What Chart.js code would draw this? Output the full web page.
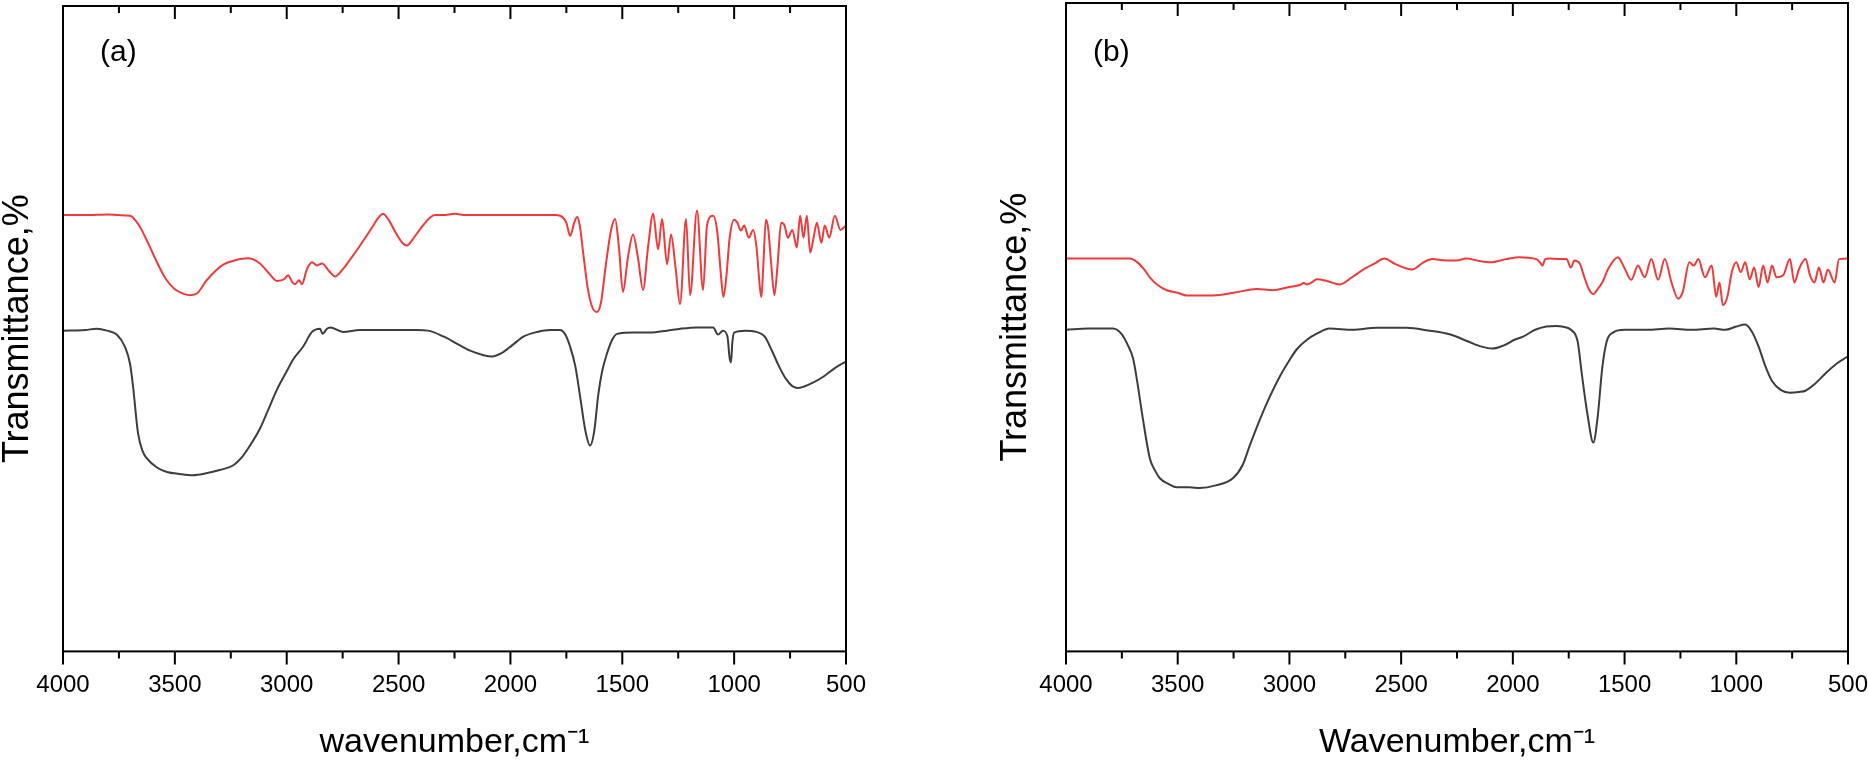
<!DOCTYPE html>
<html>
<head>
<meta charset="utf-8">
<script src="https://cdn.jsdelivr.net/npm/chart.js@4.4.1/dist/chart.umd.min.js"></script>
<style>
html, body { margin: 0; padding: 0; background: #fff; overflow: hidden; }
#wrap { position: relative; width: 1868px; height: 763px; overflow: hidden; }
#chartA { position: absolute; left: 0; top: 0; }
#chartB { position: absolute; left: 934px; top: 0; }
</style>
</head>
<body>
<div id="wrap">
  <canvas id="chartA" width="934" height="763"></canvas>
  <canvas id="chartB" width="960" height="763"></canvas>
</div>
<script>
// panel (a) - red spectrum
var aRedWn = [4000,3900,3800,3750,3700,3660,3620,3580,3540,3500,3460,3432,3400,3360,3320,3280,3230,3173,3120,3080,3043,3010,2994,2975,2963,2945,2932,2910,2887,2865,2842,2810,2784,2750,2717,2672,2620,2590,2570,2545,2510,2480,2462,2440,2400,2360,2337,2300,2250,2200,2100,2000,1900,1800,1778,1750,1733,1715,1702,1690,1675,1655,1635,1613,1595,1575,1550,1532,1515,1497,1475,1452,1430,1407,1385,1362,1340,1322,1300,1282,1262,1242,1215,1197,1166,1139,1121,1094,1075,1060,1048,1035,1020,1000,985,970,955,935,915,900,885,878,870,858,848,835,820,805,790,775,760,740,720,705,690,675,660,645,630,610,595,575,550,525,500];
var aRedT = [67.6,67.6,67.7,67.6,67.5,66.0,63.3,60.3,57.7,56.1,55.4,55.2,55.5,57.4,58.9,60.0,60.6,60.9,60.1,58.6,57.4,57.7,58.3,57.2,56.9,57.5,56.9,59.2,60.3,59.8,60.1,58.9,58.1,59.2,60.7,62.9,65.6,67.2,67.8,66.9,64.7,63.2,62.9,63.7,65.6,67.2,67.6,67.6,67.8,67.6,67.6,67.6,67.6,67.6,67.5,66.4,64.4,66.4,67.3,66.0,61.8,56.4,53.4,52.6,54.1,59.5,65.3,67.0,62.6,55.7,61.0,64.6,61.0,56.0,62.6,67.8,62.3,67.0,60.0,64.6,59.5,53.8,67.0,55.2,68.3,56.0,66.1,67.5,64.9,58.7,54.9,58.0,64.1,66.9,66.4,65.2,66.0,64.1,65.3,62.6,56.4,54.9,59.5,66.9,65.6,60.3,55.2,60.3,66.4,66.0,64.1,65.3,62.6,67.5,64.1,67.5,61.8,64.1,66.4,63.3,66.0,64.1,67.5,65.3,66.0];

// panel (a) - black spectrum
var aBlackWn = [4000,3900,3850,3803,3760,3723,3700,3687,3665,3645,3625,3580,3535,3480,3419,3360,3300,3240,3200,3164,3120,3088,3043,3000,2972,2927,2887,2851,2840,2820,2806,2748,2672,2600,2500,2420,2368,2300,2240,2180,2120,2082,2040,1990,1940,1880,1823,1778,1755,1733,1710,1689,1665,1644,1625,1608,1590,1568,1545,1523,1450,1376,1300,1240,1166,1094,1072,1050,1030,1020,1014,1008,1000,950,900,864,830,800,770,740,715,690,650,600,550,500];
var aBlackT = [49.7,49.8,50.0,49.7,49.1,47.2,44.5,41.1,33.9,31.1,29.9,28.5,27.8,27.5,27.3,27.6,28.1,28.8,30.1,31.9,34.5,37.0,40.6,43.4,45.2,47.2,49.5,50.0,49.2,50.0,50.2,49.5,49.8,49.8,49.8,49.8,49.7,48.8,47.7,46.6,45.9,45.7,46.2,47.5,48.8,49.5,49.8,49.8,49.1,47.2,44.2,39.6,34.2,31.9,34.2,39.6,43.4,46.2,48.3,49.2,49.4,49.4,49.7,50.0,50.2,50.2,49.1,49.7,48.8,45.4,44.8,47.9,49.4,49.7,49.5,48.8,46.5,44.2,42.3,41.1,40.8,41.0,41.6,42.6,43.9,44.9];

// panel (b) - red spectrum
var bRedWn = [4000,3900,3800,3714,3680,3650,3625,3590,3549,3500,3459,3400,3342,3250,3146,3074,3000,2954,2935,2923,2900,2878,2830,2775,2720,2673,2620,2574,2530,2480,2449,2400,2360,2300,2253,2207,2150,2100,2030,1971,1895,1875,1868,1855,1837,1792,1760,1740,1725,1700,1680,1660,1640,1620,1600,1570,1530,1500,1470,1440,1410,1380,1350,1320,1290,1260,1240,1210,1190,1170,1140,1110,1090,1075,1060,1040,1020,1000,980,960,940,920,900,880,860,840,820,790,760,740,720,690,670,650,630,610,590,560,540,500];
var bRedT = [60.6,60.6,60.6,60.6,60.0,58.9,57.7,56.5,55.7,55.3,54.9,54.9,54.9,55.3,55.9,55.7,56.2,56.5,56.8,56.6,56.9,57.4,57.1,56.6,57.7,58.8,59.8,60.6,59.8,59.1,58.9,60.0,60.5,60.3,60.3,60.6,60.2,60.0,60.5,60.8,60.5,59.8,59.5,60.5,60.6,60.5,60.5,59.2,60.3,59.8,57.7,55.9,55.1,55.9,56.9,59.2,60.8,59.1,57.3,59.5,57.7,60.5,57.3,60.5,56.9,54.4,55.4,60.0,59.5,60.5,57.7,59.5,54.7,56.9,53.4,54.7,58.5,60.0,58.5,60.0,57.4,59.2,56.2,59.5,56.9,59.5,57.7,58.0,60.5,56.9,58.9,60.5,58.0,56.9,59.2,56.9,58.9,56.9,60.5,60.6];

// panel (b) - black spectrum
var bBlackWn = [4000,3900,3790,3750,3727,3700,3683,3656,3625,3600,3580,3540,3504,3446,3401,3330,3253,3210,3177,3140,3101,3043,3000,2967,2920,2878,2820,2717,2610,2476,2380,2283,2200,2140,2091,2040,1990,1957,1900,1850,1805,1780,1740,1710,1690,1665,1640,1620,1600,1580,1550,1500,1400,1300,1200,1100,1050,1000,960,930,900,870,840,800,760,720,690,650,600,550,500];
var bBlackT = [49.6,49.8,49.8,48.9,47.5,45.2,42.0,35.9,29.8,27.8,26.7,25.8,25.3,25.3,25.2,25.6,26.7,28.7,31.8,35.1,38.3,42.4,44.9,46.6,48.1,49.0,49.8,49.6,49.9,49.9,49.5,48.9,47.8,47.0,46.7,47.2,48.1,48.5,49.6,50.1,50.2,50.1,49.6,47.8,42.4,36.3,32.2,36.3,43.7,47.8,49.2,49.6,49.6,49.8,49.6,49.8,49.6,50.1,50.4,49.3,47.0,44.0,41.7,40.3,39.9,40.0,40.2,41.2,42.9,44.4,45.5];

var xMin = 500, xMax = 4000;
var redColor = '#ef3a3a';
var blackColor = '#3d3d3d';
var fontFamily = '"Liberation Sans", Arial, sans-serif';

function toPoints(wn, t) {
    var pts = [];
    for (var i = 0; i < wn.length; i++) {
        pts.push({ x: wn[i], y: t[i] });
    }
    return pts;
}

// box around the plot, ticks on bottom (outside) and top (inside), panel tag
var framePlugin = {
    id: 'frame',
    afterDraw: function (chart, args, opts) {
        var ctx = chart.ctx;
        var a = chart.chartArea;
        var xs = chart.scales.x;
        ctx.save();
        ctx.strokeStyle = '#000';
        ctx.lineWidth = 2;
        ctx.strokeRect(a.left, a.top, a.right - a.left, a.bottom - a.top);
        ctx.beginPath();
        xs.ticks.forEach(function (t) {
            var px = xs.getPixelForValue(t.value);
            var len = t.value % 500 === 0 ? 13 : 7;
            ctx.moveTo(px, a.bottom);
            ctx.lineTo(px, a.bottom + len);
            ctx.moveTo(px, a.top);
            ctx.lineTo(px, a.top + len);
        });
        ctx.stroke();
        ctx.fillStyle = '#000';
        ctx.font = '30px ' + fontFamily;
        ctx.textBaseline = 'middle';
        ctx.fillText(opts.tag, a.left + opts.tagX, opts.tagY);
        ctx.restore();
    }
};

function makeChart(id, red, black, xTitle, pad, yTitlePad, tag, tagX, tagY) {
    return new Chart(document.getElementById(id), {
        type: 'line',
        data: {
            datasets: [
                { data: red, borderColor: redColor, borderWidth: 2, pointRadius: 0, cubicInterpolationMode: 'monotone' },
                { data: black, borderColor: blackColor, borderWidth: 2, pointRadius: 0, cubicInterpolationMode: 'monotone' }
            ]
        },
        options: {
            animation: false,
            responsive: false,
            devicePixelRatio: 1,
            layout: { padding: pad },
            plugins: {
                legend: { display: false },
                tooltip: { enabled: false },
                frame: { tag: tag, tagX: tagX, tagY: tagY }
            },
            scales: {
                x: {
                    type: 'linear',
                    reverse: true,
                    min: xMin,
                    max: xMax,
                    border: { display: false },
                    grid: { display: true, drawOnChartArea: false, drawTicks: true, tickLength: 13, tickColor: 'rgba(0,0,0,0)' },
                    ticks: {
                        stepSize: 250,
                        autoSkip: false,
                        maxRotation: 0,
                        padding: 7,
                        color: '#000',
                        font: { family: fontFamily, size: 24 },
                        callback: function (v) { return v % 500 === 0 ? String(v) : ''; }
                    },
                    title: {
                        display: true,
                        text: xTitle,
                        color: '#000',
                        font: { family: fontFamily, size: 34, lineHeight: 1.2 },
                        padding: { top: 15, bottom: 0 }
                    }
                },
                y: {
                    min: 0,
                    max: 100,
                    border: { display: false },
                    grid: { display: false, drawTicks: false },
                    ticks: { display: false },
                    title: {
                        display: true,
                        text: 'Transmittance,%',
                        color: '#000',
                        font: { family: fontFamily, size: 36, lineHeight: 1 },
                        padding: yTitlePad
                    }
                }
            }
        },
        plugins: [framePlugin]
    });
}

makeChart('chartA', toPoints(aRedWn, aRedT), toPoints(aBlackWn, aBlackT),
    'wavenumber,cm\u207B\u00B9',
    { left: 0, top: 6, right: 88, bottom: 0 }, { top: 0, bottom: 27 },
    '(a)', 37, 53);

makeChart('chartB', toPoints(bRedWn, bRedT), toPoints(bBlackWn, bBlackT),
    'Wavenumber,cm\u207B\u00B9',
    { left: 64, top: 3, right: 46, bottom: 0 }, { top: 0, bottom: 32 },
    '(b)', 27, 53);
</script>
</body>
</html>
